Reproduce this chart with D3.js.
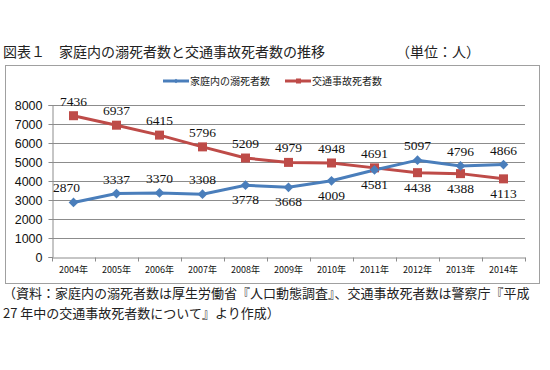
<!DOCTYPE html>
<html>
<head>
<meta charset="utf-8">
<script src="https://cdn.jsdelivr.net/npm/d3@7"></script>
<style>
  body { margin: 0; background: #fff; }
  svg { display: block; }
</style>
</head>
<body>
<div id="plot"></div>
<script>
var years = ['2004年', '2005年', '2006年', '2007年', '2008年', '2009年', '2010年', '2011年', '2012年', '2013年', '2014年']
var drowning = [2870, 3337, 3370, 3308, 3778, 3668, 4009, 4581, 5097, 4796, 4866]
var traffic = [7436, 6937, 6415, 5796, 5209, 4979, 4948, 4691, 4438, 4388, 4113]
var yTicks = [0, 1000, 2000, 3000, 4000, 5000, 6000, 7000, 8000]
// label above (-1) or below (1) the point
var drowningLabelSide = [-1, -1, -1, -1, 1, 1, 1, 1, -1, -1, -1]
var trafficLabelSide = [-1, -1, -1, -1, -1, -1, -1, -1, 1, 1, 1]
var seriesNames = ['家庭内の溺死者数', '交通事故死者数']

var width = 550
var height = 370
var plot = { left: 52, right: 525, top: 105, bottom: 257 }
var blue = '#4a7ebb'
var red = '#be4b48'

var svg = d3
  .select('#plot')
  .append('svg')
  .attr('width', width)
  .attr('height', height)

var xScale = d3
  .scaleBand()
  .domain(years)
  .range([plot.left, plot.right])

var yScale = d3
  .scaleLinear()
  .domain([0, 8000])
  .range([plot.bottom, plot.top])

// title
svg
  .append('text')
  .attr('x', 3)
  .attr('y', 57)
  .style('font-family', '"Noto Sans CJK JP"')
  .style('font-size', '14px')
  .attr('fill', '#222')
  .text('図表１　家庭内の溺死者数と交通事故死者数の推移')

svg
  .append('text')
  .attr('x', 396)
  .attr('y', 57)
  .style('font-family', '"Noto Sans CJK JP"')
  .style('font-size', '14px')
  .attr('fill', '#222')
  .text('（単位：人）')

// chart box
svg
  .append('rect')
  .attr('x', 5.5)
  .attr('y', 65.5)
  .attr('width', 534)
  .attr('height', 218)
  .attr('fill', 'none')
  .attr('stroke', '#a0a0a0')

// gridlines
svg
  .append('g')
  .selectAll('line')
  .data(yTicks.slice(1))
  .enter()
  .append('line')
  .attr('x1', plot.left)
  .attr('x2', plot.right)
  .attr('y1', function(d) { return Math.round(yScale(d)) + 0.5 })
  .attr('y2', function(d) { return Math.round(yScale(d)) + 0.5 })
  .attr('stroke', '#8c8c8c')

var yAxis = d3.axisLeft(yScale).tickValues(yTicks).tickFormat(d3.format('d')).tickSize(4).tickPadding(6)
svg
  .append('g')
  .attr('transform', 'translate(' + (plot.left + 0.5) + ',0)')
  .call(yAxis)
  .call(function(g) {
    g.select('.domain').attr('stroke', '#8c8c8c')
    g.selectAll('.tick line').attr('stroke', '#8c8c8c')
    g.selectAll('.tick text')
      .style('font-family', '"Liberation Sans", Arial')
      .style('font-size', '12.5px')
      .attr('fill', '#111')
  })

var xAxis = d3.axisBottom(xScale).tickSize(0).tickPadding(9)
var gx = svg
  .append('g')
  .attr('transform', 'translate(0,' + (Math.round(plot.bottom) + 0.5) + ')')
  .call(xAxis)
gx.select('.domain').attr('stroke', '#8c8c8c')
gx.selectAll('.tick text')
  .style('font-family', '"Noto Sans CJK JP"')
  .style('font-size', '9px')
  .attr('fill', '#111')
// tick marks on band boundaries
gx.selectAll('.sep')
  .data(years.concat(['end']))
  .enter()
  .append('line')
  .attr('class', 'sep')
  .attr('x1', function(d, i) { return Math.round(plot.left + i * xScale.step()) + 0.5 })
  .attr('x2', function(d, i) { return Math.round(plot.left + i * xScale.step()) + 0.5 })
  .attr('y1', 0)
  .attr('y2', 4)
  .attr('stroke', '#8c8c8c')

function cx(i) {
  return xScale(years[i]) + xScale.bandwidth() / 2
}

var plotLine = d3
  .line()
  .x(function(d, i) { return cx(i) })
  .y(function(d) { return yScale(d) })

svg
  .append('path')
  .datum(traffic)
  .attr('d', plotLine)
  .attr('fill', 'none')
  .attr('stroke', red)
  .attr('stroke-width', 3)

svg
  .append('path')
  .datum(drowning)
  .attr('d', plotLine)
  .attr('fill', 'none')
  .attr('stroke', blue)
  .attr('stroke-width', 3)

svg
  .append('g')
  .selectAll('rect')
  .data(traffic)
  .enter()
  .append('rect')
  .attr('x', function(d, i) { return cx(i) - 4.5 })
  .attr('y', function(d) { return yScale(d) - 4.5 })
  .attr('width', 9)
  .attr('height', 9)
  .attr('fill', red)

var diamond = d3.symbol().type(d3.symbolDiamond2).size(60)
svg
  .append('g')
  .selectAll('path')
  .data(drowning)
  .enter()
  .append('path')
  .attr('d', diamond)
  .attr('transform', function(d, i) { return 'translate(' + cx(i) + ',' + yScale(d) + ')' })
  .attr('fill', blue)

function addLabels(values, sides) {
  svg
    .append('g')
    .selectAll('text')
    .data(values)
    .enter()
    .append('text')
    .attr('x', function(d, i) { return cx(i) - (i === 0 && sides === drowningLabelSide ? 7 : 0) })
    .attr('y', function(d, i) { return yScale(d) + (sides[i] < 0 ? -10 : 19) })
    .attr('text-anchor', 'middle')
    .style('font-family', '"Liberation Serif", serif')
    .style('font-size', '13.5px')
    .attr('fill', '#111')
    .text(function(d) { return d })
}
addLabels(traffic, trafficLabelSide)
addLabels(drowning, drowningLabelSide)

// legend
var legend = svg.append('g').attr('transform', 'translate(0,81)')
var legendX = [163, 285]
var legendColors = [blue, red]
seriesNames.forEach(function(name, i) {
  legend
    .append('line')
    .attr('x1', legendX[i])
    .attr('x2', legendX[i] + 26)
    .attr('y1', 0)
    .attr('y2', 0)
    .attr('stroke', legendColors[i])
    .attr('stroke-width', 3)
  if (i === 0) {
    legend.append('path')
      .attr('d', d3.symbol().type(d3.symbolDiamond2).size(14))
      .attr('transform', 'translate(' + (legendX[i] + 13) + ',0)')
      .attr('fill', blue)
  } else {
    legend.append('rect')
      .attr('x', legendX[i] + 11)
      .attr('y', -2.5)
      .attr('width', 5)
      .attr('height', 5)
      .attr('fill', red)
  }
  legend
    .append('text')
    .attr('x', legendX[i] + 27)
    .attr('y', 4)
    .style('font-family', '"Noto Sans CJK JP"')
    .style('font-size', '10px')
    .attr('fill', '#222')
    .text(name)
})

// source note
var notes = [
  '（資料：家庭内の溺死者数は厚生労働省『人口動態調査』、交通事故死者数は警察庁『平成',
  '27 年中の交通事故死者数について』より作成）'
]
svg
  .append('g')
  .selectAll('text')
  .data(notes)
  .enter()
  .append('text')
  .attr('x', 3)
  .attr('y', function(d, i) { return 298 + i * 20 })
  .style('font-family', '"Noto Sans CJK JP"')
  .style('font-size', '13px')
  .attr('fill', '#222')
  .text(function(d) { return d })
</script>
</body>
</html>
